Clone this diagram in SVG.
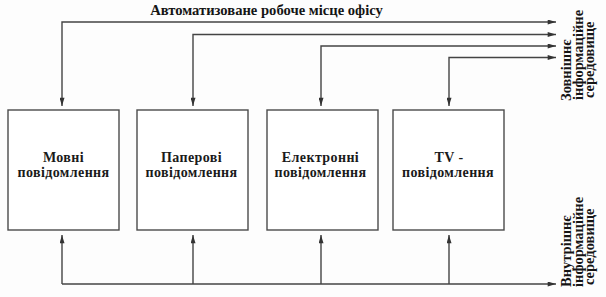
<svg xmlns="http://www.w3.org/2000/svg" width="606" height="297" viewBox="0 0 606 297">
<style>
.bg{fill:#fdfdfd}
.box{fill:#ffffff;stroke:#4a4a4a;stroke-width:1.4}
.lbl{font-family:"Liberation Serif","DejaVu Serif",serif;font-size:14px;font-weight:bold;fill:#1a1a1a;text-anchor:middle;letter-spacing:0.4px}
.title{font-family:"Liberation Serif","DejaVu Serif",serif;font-size:14.6px;font-weight:bold;fill:#151515;text-anchor:middle}
.side{font-family:"Liberation Serif","DejaVu Serif",serif;font-size:14.5px;font-weight:bold;fill:#151515}
.c{fill:none;stroke:#444;stroke-width:1.4}
</style>
<defs>
<marker id="ah" viewBox="0 0 10 6" refX="10" refY="3" markerWidth="9" markerHeight="5" markerUnits="userSpaceOnUse" orient="auto-start-reverse">
<path d="M0,0 L10,3 L0,6 z" fill="#333"/>
</marker>
</defs>
<rect class="bg" x="0" y="0" width="606" height="297"/>
<text class="title" x="266.5" y="15">Автоматизоване робоче місце офісу</text>
<g id="connectors">
<path class="c" d="M62,106 V22 H556" marker-start="url(#ah)" marker-end="url(#ah)"/>
<path class="c" d="M193,106 V34.5 H556" marker-start="url(#ah)" marker-end="url(#ah)"/>
<path class="c" d="M321,106 V46 H556" marker-start="url(#ah)" marker-end="url(#ah)"/>
<path class="c" d="M449,106 V57.5 H556" marker-start="url(#ah)" marker-end="url(#ah)"/>
<path class="c" d="M62,284 H556" marker-end="url(#ah)"/>
<path class="c" d="M62,284 V235" marker-end="url(#ah)"/>
<path class="c" d="M193,284 V235" marker-end="url(#ah)"/>
<path class="c" d="M321,284 V235" marker-end="url(#ah)"/>
<path class="c" d="M449,284 V235" marker-end="url(#ah)"/>
</g>
<g id="node-movni">
<rect class="box" x="8" y="110" width="111" height="120"/>
<text class="lbl" x="63.5" y="162">Мовні</text>
<text class="lbl" x="63.5" y="177">повідомлення</text>
</g>
<g id="node-paperovi">
<rect class="box" x="137" y="110" width="111" height="120"/>
<text class="lbl" x="191.5" y="162">Паперові</text>
<text class="lbl" x="191.5" y="177">повідомлення</text>
</g>
<g id="node-elektronni">
<rect class="box" x="267" y="110" width="111" height="120"/>
<text class="lbl" x="320.5" y="162">Електронні</text>
<text class="lbl" x="320.5" y="177">повідомлення</text>
</g>
<g id="node-tv">
<rect class="box" x="393" y="110" width="111" height="120"/>
<text class="lbl" x="449" y="162">TV -</text>
<text class="lbl" x="448" y="177">повідомлення</text>
</g>
<g id="label-external">
<text class="side" transform="translate(571,101) rotate(-90)">Зовнішнє</text>
<text class="side" transform="translate(582.5,100) rotate(-90)">інформаційне</text>
<text class="side" transform="translate(594,98) rotate(-90)">середовище</text>
</g>
<g id="label-internal">
<text class="side" transform="translate(571,287) rotate(-90)">Внутрішнє</text>
<text class="side" transform="translate(582.5,287) rotate(-90)">інформаційне</text>
<text class="side" transform="translate(594,285) rotate(-90)">середовище</text>
</g>
</svg>
